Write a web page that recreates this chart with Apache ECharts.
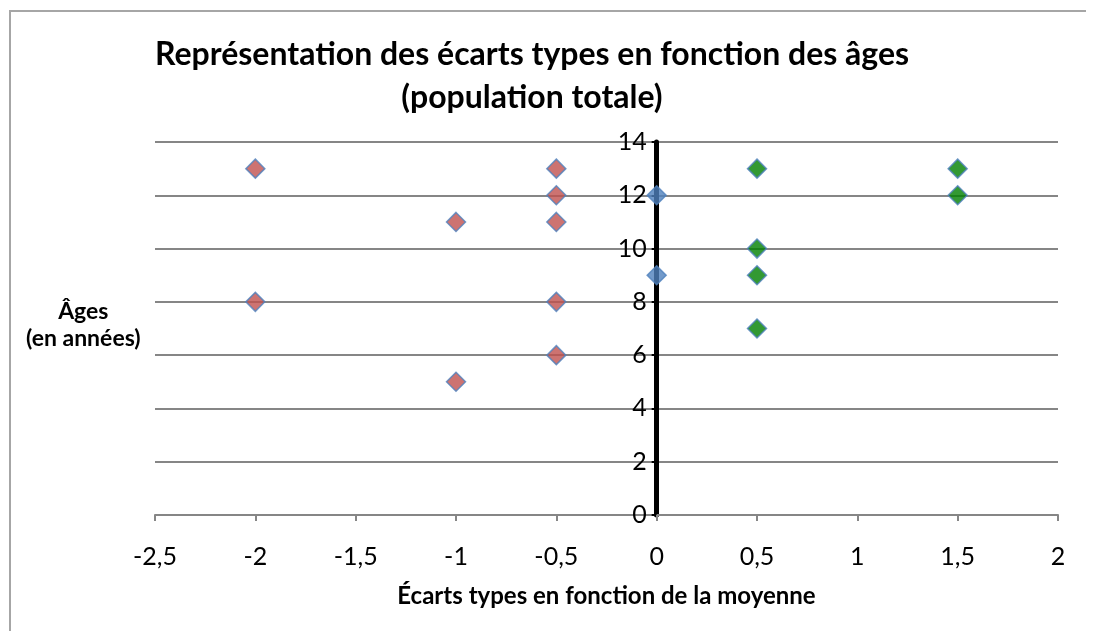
<!DOCTYPE html>
<html>
<head>
<meta charset="utf-8">
<script src="https://cdn.jsdelivr.net/npm/echarts@6/dist/echarts.min.js"></script>
<style>
  html, body { margin: 0; padding: 0; background: #ffffff; }
  #frame {
    position: absolute; left: 9px; top: 10px;
    width: 1075px; height: 700px;
    border-top: 2px solid #a6a6a6;
    border-left: 2px solid #a6a6a6;
  }
  #chartScatter { position: absolute; left: 0; top: 0; width: 1094px; height: 631px; }
</style>
</head>
<body>
<div id="frame"></div>
<div id="chartScatter"></div>
<script>
// écarts types (x) et âges (y)
var negX = [-2, -2, -1, -1, -0.5, -0.5, -0.5, -0.5, -0.5]
var negY = [13, 8, 11, 5, 13, 12, 11, 8, 6]
var zeroX = [0, 0]
var zeroY = [12, 9]
var posX = [0.5, 0.5, 0.5, 0.5, 1.5, 1.5]
var posY = [13, 10, 9, 7, 13, 12]
var xTicks = [-2.5, -2, -1.5, -1, -0.5, 0, 0.5, 1, 1.5, 2]
var yTicks = [0, 2, 4, 6, 8, 10, 12, 14]

function pairs(xs, ys) {
  var out = []
  for (var i = 0; i < xs.length; i++) out.push([xs[i], ys[i]])
  return out
}

var font = 'Lato, "Open Sans", sans-serif'
var gridLeft = 155
var gridRight = 36
var plotWidth = 1094 - gridLeft - gridRight
var xMin = xTicks[0]
var xMax = xTicks[xTicks.length - 1]
// l'axe vertical est dessiné sur x = 0
var yAxisShift = -plotWidth * (0 - xMin) / (xMax - xMin)

var marker = {
  type: 'scatter',
  symbol: 'diamond',
  symbolSize: 19,
  z: 5
}

var option = {
  animation: false,
  textStyle: { fontFamily: font },
  title: {
    text: 'Représentation des écarts types en fonction des âges\n(population totale)',
    left: 527,
    textAlign: 'center',
    top: 28,
    textStyle: { fontFamily: font, fontSize: 32, fontWeight: 'bold', color: '#000', lineHeight: 43 }
  },
  graphic: [{
    type: 'text',
    left: 26,
    top: 298,
    style: {
      text: 'Âges\n(en années)',
      font: 'bold 23px ' + font,
      fill: '#000',
      textAlign: 'center',
      lineHeight: 27
    }
  }],
  grid: { left: gridLeft, right: gridRight, top: 142, bottom: 116 },
  xAxis: {
    type: 'value',
    min: xMin,
    max: xMax,
    interval: 0.5,
    name: 'Écarts types en fonction de la moyenne',
    nameLocation: 'middle',
    nameGap: 69,
    nameTextStyle: { fontFamily: font, fontSize: 24, fontWeight: 'bold', color: '#000' },
    axisLine: { onZero: false, lineStyle: { color: '#868686', width: 2 } },
    axisTick: { show: true, length: 6, lineStyle: { color: '#868686', width: 2 } },
    axisLabel: {
      margin: 29, fontSize: 25, color: '#000',
      formatter: function (v) { return String(v).replace('.', ',') }
    },
    splitLine: { show: false }
  },
  yAxis: {
    type: 'value',
    min: yTicks[0],
    max: yTicks[yTicks.length - 1],
    interval: 2,
    offset: yAxisShift,
    axisLine: { onZero: false, lineStyle: { color: '#000', width: 5 } },
    axisTick: { show: true, length: 5, lineStyle: { color: '#000', width: 2 } },
    axisLabel: { margin: 10, fontSize: 25, color: '#000' },
    splitLine: { show: true, lineStyle: { color: '#868686', width: 2 } }
  },
  series: [
    Object.assign({}, marker, {
      data: pairs(negX, negY),
      itemStyle: { color: '#C0504D', borderColor: '#4F81BD', borderWidth: 1.5 }
    }),
    Object.assign({}, marker, {
      data: pairs(zeroX, zeroY),
      itemStyle: { color: '#4F81BD', borderColor: '#4F81BD', borderWidth: 1.5 }
    }),
    Object.assign({}, marker, {
      data: pairs(posX, posY),
      itemStyle: { color: '#008000', borderColor: '#4F81BD', borderWidth: 1.5 }
    })
  ]
}

var myChart = echarts.init(document.getElementById('chartScatter'))
myChart.setOption(option)
window.addEventListener('resize', function () { myChart.resize() })
</script>
</body>
</html>
